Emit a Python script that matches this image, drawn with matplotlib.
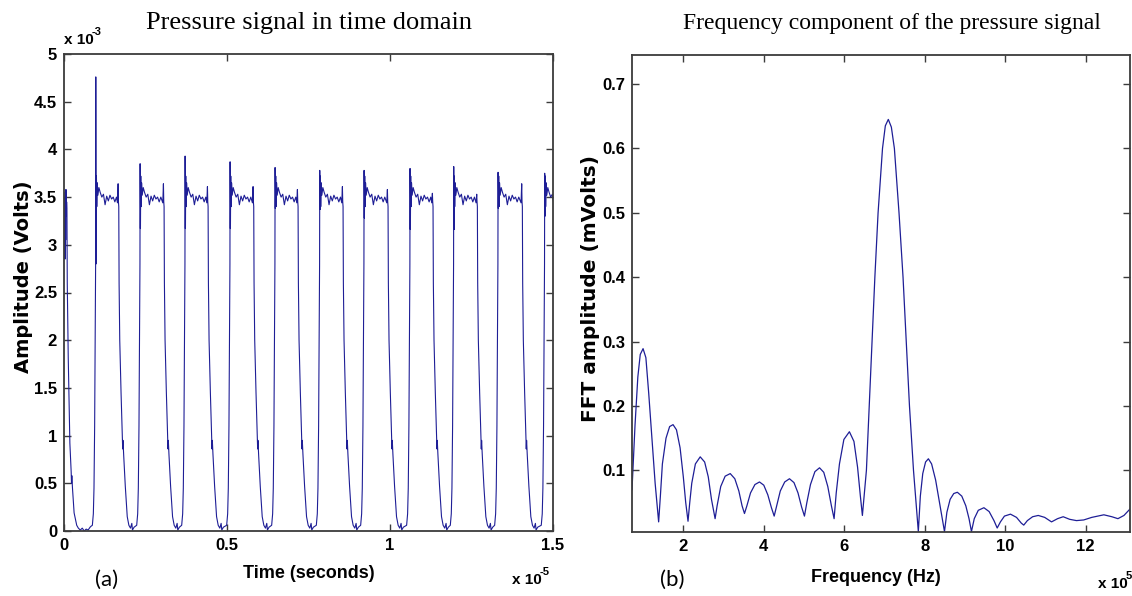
import matplotlib.pyplot as plt
from matplotlib.ticker import FuncFormatter

# ---------- (a) pressure signal: time in 1e-5 s, amplitude in 1e-3 V ----------
# first partial cycle (t = 0 up to the first rise), read point by point
init_t = [0.000, 0.001, 0.002, 0.003, 0.004, 0.005, 0.006, 0.007, 0.008, 0.009,
          0.010, 0.013, 0.018, 0.022, 0.023, 0.024, 0.026, 0.031, 0.039, 0.044,
          0.050, 0.056, 0.062, 0.068, 0.074, 0.080, 0.083]
init_v = [3.55, 2.95, 3.45, 2.85, 3.50, 3.05, 3.58, 3.30, 3.45, 3.38,
          2.60, 1.82, 0.92, 0.62, 0.50, 0.58, 0.45, 0.19, 0.06, 0.03,
          0.01, 0.03, 0.00, 0.02, 0.01, 0.04, 0.05]

# per-cycle readings
rise_t = [0.097, 0.233, 0.371, 0.509, 0.647, 0.784, 0.920, 1.061, 1.195, 1.331, 1.474]
fall_t = [0.168, 0.307, 0.442, 0.582, 0.718, 0.856, 0.994, 1.132, 1.268, 1.406]
spike_top = [4.76, 3.85, 3.93, 3.87, 3.81, 3.78, 3.78, 3.80, 3.82, 3.76, 3.75]
spike_dip = [2.80, 3.17, 3.17, 3.17, 3.38, 3.37, 3.28, 3.16, 3.16, 3.38, 3.30]
end_spike = [3.64, 3.64, 3.61, 3.61, 3.58, 3.61, 3.58, 3.54, 3.53, 3.64]

edge_dt = [-0.010, -0.007, -0.005, -0.003, -0.001, 0.0]
edge_v = [0.06, 0.18, 0.45, 1.10, 2.20, 2.80]
top_dt = [0.0025, 0.0035, 0.005, 0.007, 0.010, 0.014, 0.019, 0.024,
          0.029, 0.034, 0.039, 0.044, 0.049, 0.054, 0.059, 0.064]
top_v = [3.72, 3.40, 3.65, 3.52, 3.60, 3.55, 3.50, 3.53,
         3.42, 3.51, 3.46, 3.52, 3.48, 3.50, 3.45, 3.50]
drop_dt = [0.001, 0.003, 0.007, 0.011, 0.012, 0.013, 0.015, 0.020,
           0.026, 0.031, 0.036, 0.040, 0.042, 0.047]
drop_v = [2.60, 2.00, 1.45, 1.00, 0.86, 0.95, 0.80, 0.47,
          0.15, 0.06, 0.03, 0.08, 0.01, 0.04]

# ---------- (b) FFT: frequency in 1e5 Hz, amplitude in mV ----------
freq = [0.725, 0.80, 0.87, 0.93, 1.00, 1.07, 1.14, 1.22, 1.30, 1.387,
        1.43, 1.48, 1.57, 1.66, 1.745, 1.83, 1.92, 2.00, 2.06, 2.117,
        2.16, 2.21, 2.30, 2.42, 2.53, 2.62, 2.70, 2.79,
        2.84, 2.93, 3.04, 3.166, 3.28, 3.38, 3.46, 3.52,
        3.58, 3.67, 3.78, 3.893, 4.00, 4.10, 4.19, 4.258,
        4.32, 4.41, 4.52, 4.638, 4.75, 4.85, 4.94, 5.01,
        5.07, 5.16, 5.27, 5.385, 5.49, 5.59, 5.68, 5.747,
        5.80, 5.88, 5.99, 6.127, 6.24, 6.33, 6.40, 6.45,
        6.55, 6.62, 6.69, 6.76, 6.84, 6.95, 7.02, 7.094, 7.17, 7.245,
        7.36, 7.46, 7.54, 7.62, 7.72, 7.84,
        7.89, 7.95, 8.02, 8.09, 8.17, 8.27, 8.38, 8.49,
        8.55, 8.63, 8.72, 8.81, 8.92, 9.02, 9.10, 9.16,
        9.23, 9.33, 9.47, 9.60, 9.72, 9.80,
        9.88, 9.98, 10.13, 10.28, 10.40, 10.46,
        10.55, 10.68, 10.82, 10.98, 11.15, 11.30, 11.44, 11.60, 11.77,
        11.95, 12.15, 12.45, 12.65, 12.80, 12.95, 13.10]
fft_amp = [0.070, 0.170, 0.245, 0.280, 0.289, 0.275, 0.220, 0.150, 0.080, 0.020,
           0.060, 0.110, 0.150, 0.168, 0.171, 0.163, 0.135, 0.090, 0.050, 0.021,
           0.050, 0.080, 0.110, 0.121, 0.113, 0.090, 0.055, 0.025,
           0.045, 0.075, 0.091, 0.095, 0.087, 0.068, 0.045, 0.033,
           0.045, 0.065, 0.078, 0.082, 0.077, 0.062, 0.042, 0.029,
           0.045, 0.068, 0.082, 0.087, 0.081, 0.065, 0.043, 0.029,
           0.050, 0.078, 0.098, 0.104, 0.097, 0.075, 0.045, 0.025,
           0.065, 0.110, 0.148, 0.160, 0.145, 0.105, 0.060, 0.030,
           0.100, 0.200, 0.300, 0.400, 0.500, 0.600, 0.635, 0.645, 0.633, 0.600,
           0.500, 0.400, 0.300, 0.200, 0.100, 0.005,
           0.060, 0.095, 0.113, 0.118, 0.110, 0.085, 0.045, 0.005,
           0.035, 0.055, 0.064, 0.066, 0.060, 0.045, 0.025, 0.005,
           0.025, 0.038, 0.042, 0.036, 0.022, 0.0105,
           0.020, 0.029, 0.032, 0.027, 0.018, 0.015,
           0.022, 0.028, 0.030, 0.027, 0.020, 0.025, 0.028, 0.024, 0.022,
           0.023, 0.027, 0.031, 0.028, 0.025, 0.030, 0.040]

# build the time trace from the readings
sig_t = list(init_t)
sig_v = list(init_v)
for i, r in enumerate(rise_t):
    sig_t += [r + d for d in edge_dt]
    sig_v += edge_v
    sig_t += [r + 0.0005, r + 0.0015]
    sig_v += [spike_top[i], spike_dip[i]]
    sig_t += [r + d for d in top_dt]
    sig_v += top_v
    if i < len(fall_t):
        f = fall_t[i]
        sig_t += [f - 0.004, f - 0.002, f - 0.001, f]
        sig_v += [3.44, end_spike[i], 3.45, 3.40]
        sig_t += [f + d for d in drop_dt]
        sig_v += drop_v

W, H = 1132, 596
fig = plt.figure(figsize=(W / 100, H / 100), dpi=100)
fig.patch.set_facecolor('white')

sans = ['Liberation Sans Narrow', 'Liberation Sans', 'DejaVu Sans']
line_col = '#1e1e96'
frame_col = '#3c3c3c'


def px(x, y):
    return x / W, 1 - y / H


def style_axes(ax):
    for s in ax.spines.values():
        s.set_color(frame_col)
        s.set_linewidth(1.3)
    ax.tick_params(direction='in', top=True, right=True, length=5, width=1,
                   color=frame_col, pad=5)
    for lab in ax.get_xticklabels() + ax.get_yticklabels():
        lab.set_fontfamily(sans)
        lab.set_fontweight('bold')
        lab.set_fontsize(12)
    ax.xaxis.set_major_formatter(FuncFormatter(lambda x, p: '%g' % x))
    ax.yaxis.set_major_formatter(FuncFormatter(lambda x, p: '%g' % x))


# ---- left panel ----
ax1 = fig.add_axes([64 / W, 1 - 531 / H, (553 - 64) / W, (531 - 54) / H])
ax1.plot(sig_t, sig_v, color=line_col, lw=0.8)
ax1.set_xlim(0, 1.5)
ax1.set_ylim(0, 5)
ax1.set_xticks([0, 0.5, 1, 1.5])
ax1.set_yticks([0, 0.5, 1, 1.5, 2, 2.5, 3, 3.5, 4, 4.5, 5])
style_axes(ax1)

# ---- right panel ----
ax2 = fig.add_axes([632 / W, 1 - 532 / H, (1130 - 632) / W, (532 - 55) / H])
ax2.plot(freq, fft_amp, color=line_col, lw=0.9)
ax2.set_xlim(0.725, 13.1)
ax2.set_ylim(0.0043, 0.745)
ax2.set_xticks([2, 4, 6, 8, 10, 12])
ax2.set_yticks([0.1, 0.2, 0.3, 0.4, 0.5, 0.6, 0.7])
style_axes(ax2)

# ---- titles (serif) ----
fig.text(*px(309, 23), 'Pressure signal in time domain', ha='center', va='center',
         family='Liberation Serif', size=19)
fig.text(*px(892, 23), 'Frequency component of the pressure signal', ha='center',
         va='center', family='Liberation Serif', size=17)

# ---- axis labels ----
ylab = dict(family=['DejaVu Sans'], weight='bold', size=14)
fig.text(*px(24, 277), 'Amplitude (Volts)', rotation=90, ha='center', va='center', **ylab)
fig.text(*px(590, 288), 'FFT amplitude (mVolts)', rotation=90, ha='center', va='center',
         family=['DejaVu Sans'], weight='bold', size=14.5)
xlab = dict(family=sans, weight='bold', size=13)
fig.text(*px(309, 574), 'Time (seconds)', ha='center', va='center', **xlab)
fig.text(*px(876, 577), 'Frequency (Hz)', ha='center', va='center', **xlab)

# ---- MATLAB style exponent labels ----
small = dict(family=sans, weight='bold', size=11)
tiny = dict(family=sans, weight='bold', size=8)
fig.text(*px(64, 40), 'x 10', ha='left', va='center', **small)
fig.text(*px(92, 32), '-3', ha='left', va='center', **tiny)
fig.text(*px(512, 580), 'x 10', ha='left', va='center', **small)
fig.text(*px(540, 572), '-5', ha='left', va='center', **tiny)
fig.text(*px(1098, 584), 'x 10', ha='left', va='center', **small)
fig.text(*px(1126, 576), '5', ha='left', va='center', **tiny)

# ---- panel letters ----
fig.text(*px(107, 580), '(a)', ha='center', va='center', family=['Lato', 'DejaVu Sans'], size=16)
fig.text(*px(672, 580), '(b)', ha='center', va='center', family=['Lato', 'DejaVu Sans'], size=16)

fig.savefig('out.png', dpi=100, facecolor='white')
